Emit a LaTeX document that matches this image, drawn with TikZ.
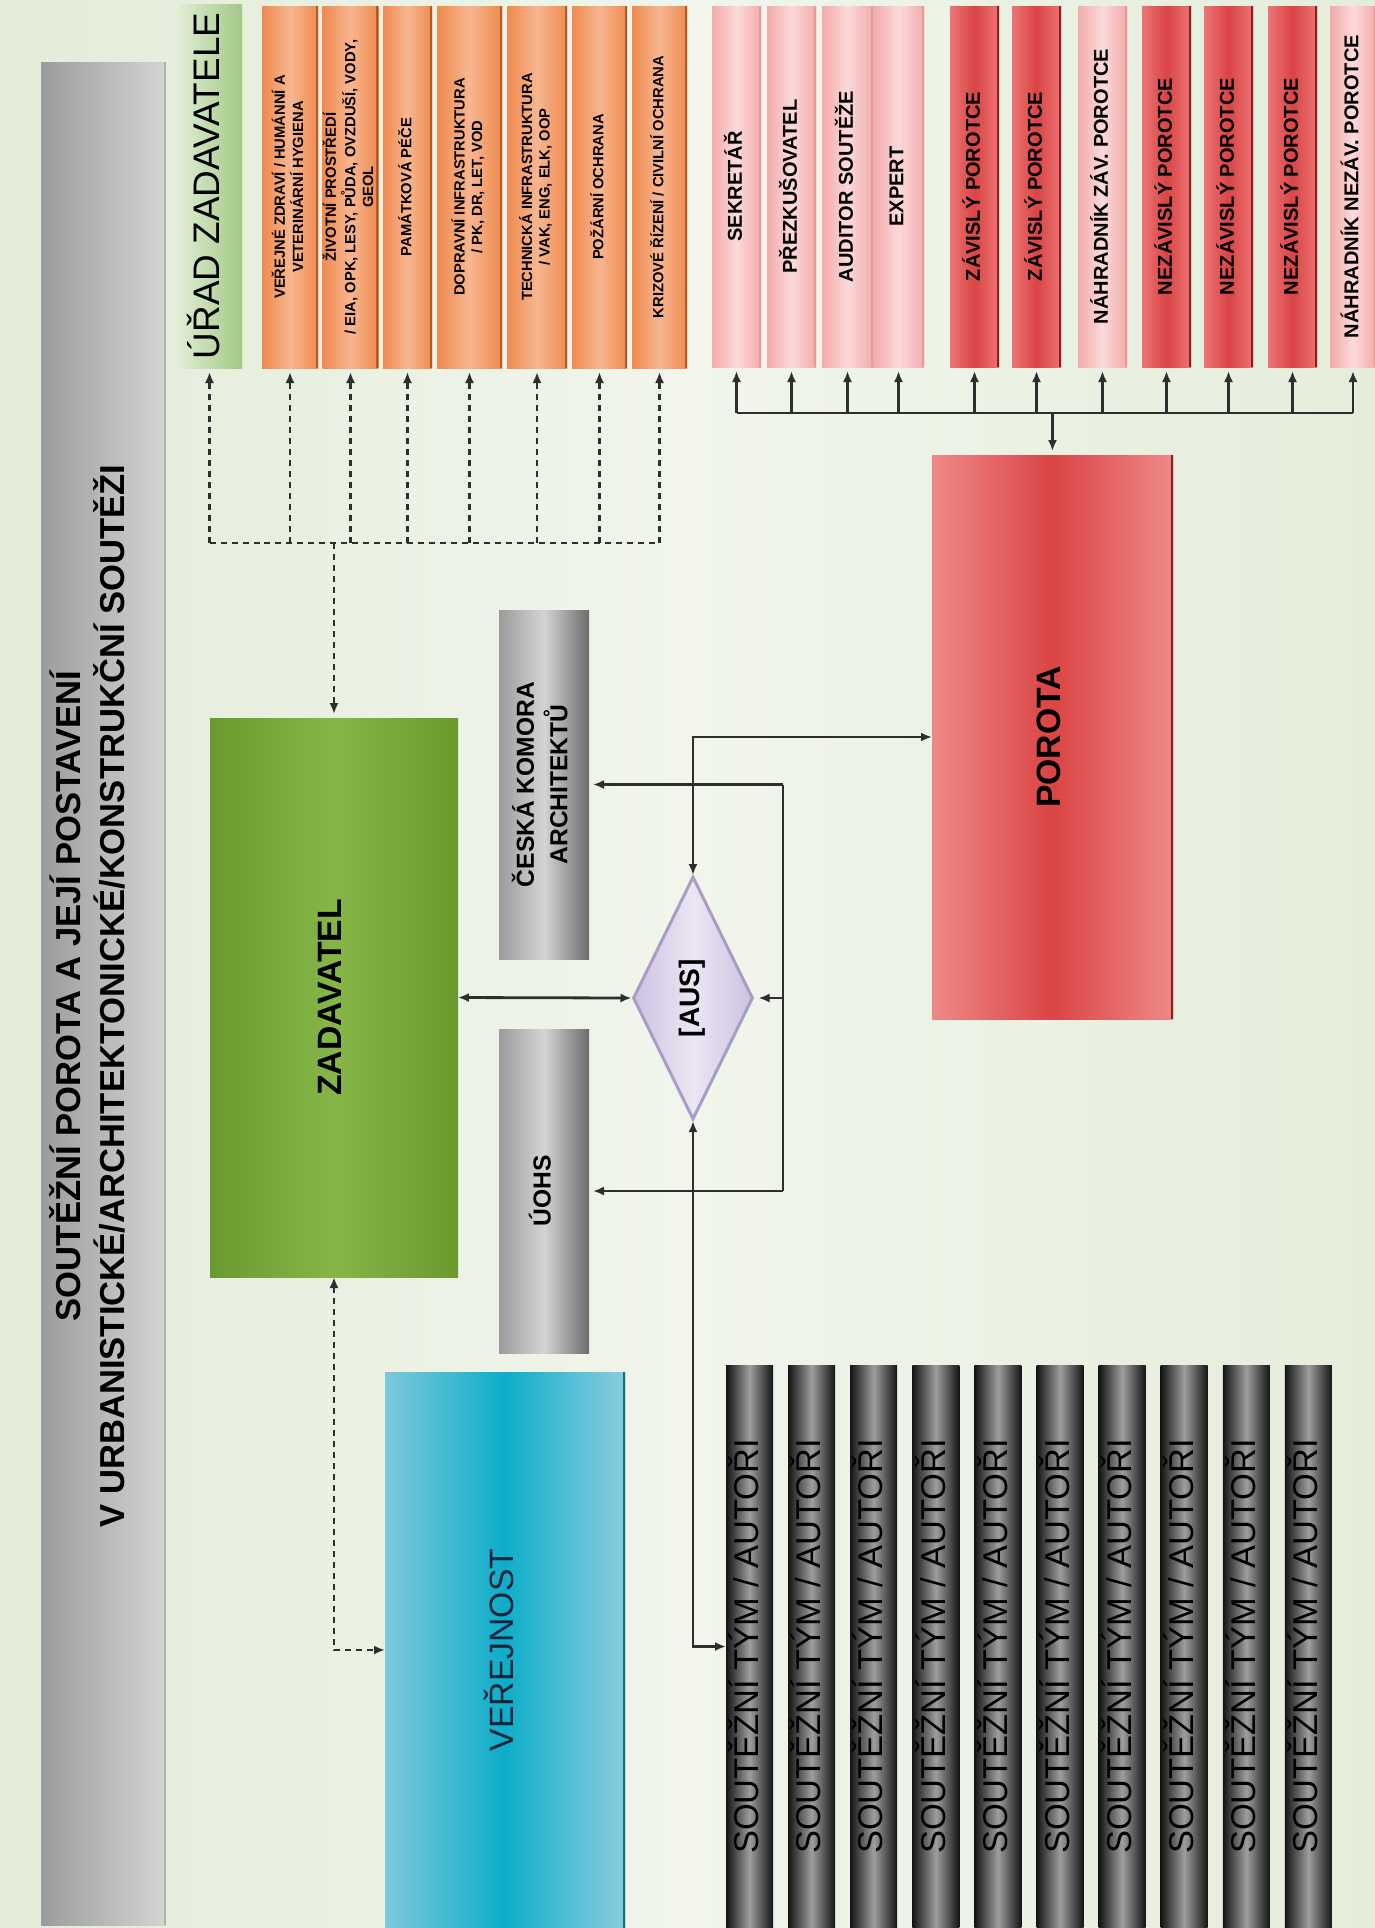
\documentclass[tikz,border=0pt]{standalone}
\usepackage{fontspec}
\setmainfont{Liberation Sans}
\usetikzlibrary{arrows.meta, shapes.geometric}

\definecolor{fondG}{HTML}{E3ECD8}
\definecolor{fondM}{HTML}{F1F5EC}
\definecolor{fondD}{HTML}{E5EDDA}
\definecolor{trait}{HTML}{2E2E2E}
\definecolor{oranzA}{HTML}{EF8A4E}
\definecolor{oranzB}{HTML}{F7B690}
\definecolor{oranzC}{HTML}{B45A26}
\definecolor{ruzA}{HTML}{F2AAAA}
\definecolor{ruzB}{HTML}{FCDADA}
\definecolor{ruzC}{HTML}{E39A9A}
\definecolor{cervA}{HTML}{EC7474}
\definecolor{cervB}{HTML}{DA4444}
\definecolor{cervC}{HTML}{8E1E1E}
\definecolor{zelA}{HTML}{6A992E}
\definecolor{zelB}{HTML}{86B548}
\definecolor{svzelA}{HTML}{E2EED6}
\definecolor{svzelB}{HTML}{A2C885}
\definecolor{modA}{HTML}{7CC9D9}
\definecolor{modB}{HTML}{0DADCA}
\definecolor{modC}{HTML}{0B6F85}
\definecolor{modT}{HTML}{14243A}
\definecolor{sedA}{HTML}{9C9C9C}
\definecolor{sedB}{HTML}{D4D4D4}
\definecolor{sedC}{HTML}{6C6C6C}
\definecolor{fialA}{HTML}{CDC2E1}
\definecolor{fialB}{HTML}{EBE6F3}
\definecolor{fialC}{HTML}{A99DC6}

\newcommand{\vlabel}[1]{\rotatebox{90}{\begin{tabular}{@{}c@{}}#1\end{tabular}}}

\tikzset{
    box/.style={rectangle, inner sep=0pt, outer sep=0pt},
    hrana/.style={path picture={\draw[#1, line width=0.4mm]
        (path picture bounding box.north east) -- (path picture bounding box.south east);}},
    dopbox/.style={box, left color=oranzA, right color=oranzA, middle color=oranzB,
        hrana=oranzC, minimum height=36.2mm, font=\fontsize{4.2}{5}\selectfont\bfseries},
    svetlybox/.style={box, left color=ruzA, right color=ruzA, middle color=ruzB,
        hrana=ruzC, minimum height=36.1mm, font=\fontsize{5.7}{6.8}\selectfont\bfseries},
    tmavybox/.style={box, left color=cervA, right color=cervA, middle color=cervB,
        hrana=cervC, minimum height=36.1mm, font=\fontsize{5.7}{6.8}\selectfont\bfseries},
    sedybox/.style={box, left color=sedA, right color=sedC, middle color=sedB,
        font=\fontsize{7}{9.4}\selectfont\bfseries},
    tymbox/.style={box, left color=black!92, right color=black!92, middle color=black!38,
        minimum width=4.7mm, minimum height=56.3mm, font=\fontsize{9.8}{11}\selectfont},
    conn/.style={draw=trait, line width=0.28mm},
    dashconn/.style={draw=trait, line width=0.25mm, dash pattern=on 0.6mm off 0.5mm},
    arrowend/.style={-{Latex[length=1.1mm,width=0.9mm]}, shorten >=0.4mm},
    arrowboth/.style={{Latex[length=1.1mm,width=0.9mm]}-{Latex[length=1.1mm,width=0.9mm]}}
}

\begin{document}
\begin{tikzpicture}[x=0.1mm, y=-0.1mm]

    % Fond
    \useasboundingbox (0,0) rectangle (1375,1928);
    \shade[left color=fondG, right color=fondD, middle color=fondM] (0,0) rectangle (1375,1928);

    % Titre
    \node[box, left color=sedA, right color=sedB, hrana=sedA!80,
        minimum width=12.5mm, minimum height=186.3mm] (pruh) at (103.5,993.5) {};
    \node[font=\fontsize{9.85}{12}\selectfont\bfseries] (titulek) at (93,996)
        {\vlabel{SOUTĚŽNÍ POROTA A JEJÍ POSTAVENÍ\\V URBANISTICKÉ/ARCHITEKTONICKÉ/KONSTRUKČNÍ SOUTĚŽI}};

    % Úřad zadavatele
    \node[box, left color=svzelA, right color=svzelB, minimum width=6.5mm, minimum height=36.4mm,
        font=\fontsize{10.5}{12}\selectfont] (urad) at (209.5,186) {\vlabel{ÚŘAD ZADAVATELE}};

    \node[dopbox, minimum width=5.6mm] (dop1) at (290,187)
        {\vlabel{VEŘEJNÉ ZDRAVÍ / HUMÁNNÍ A\\VETERINÁRNÍ HYGIENA}};
    \node[dopbox, minimum width=5.5mm] (dop2) at (350.5,187)
        {\vlabel{ŽIVOTNÍ PROSTŘEDÍ\\/ EIA, OPK, LESY, PŮDA, OVZDUŠÍ, VODY,\\GEOL}};
    \node[dopbox, minimum width=4.9mm] (dop3) at (407.5,187) {\vlabel{PAMÁTKOVÁ PÉČE}};
    \node[dopbox, minimum width=6.5mm] (dop4) at (469.5,187)
        {\vlabel{DOPRAVNÍ INFRASTRUKTURA\\/ PK, DR, LET, VOD}};
    \node[dopbox, minimum width=6mm] (dop5) at (537,187)
        {\vlabel{TECHNICKÁ INFRASTRUKTURA\\/ VAK, ENG, ELK, OOP}};
    \node[dopbox, minimum width=5.5mm] (dop6) at (599.5,187) {\vlabel{POŽÁRNÍ OCHRANA}};
    \node[dopbox, minimum width=5.5mm] (dop7) at (659.5,187) {\vlabel{KRIZOVÉ ŘÍZENÍ / CIVILNÍ OCHRANA}};

    % Porota
    \node[svetlybox, minimum width=4.9mm] (sekretar) at (736.5,186.5) {\vlabel{SEKRETÁŘ}};
    \node[svetlybox, minimum width=4.9mm] (prezk) at (791.5,186.5) {\vlabel{PŘEZKUŠOVATEL}};
    \node[svetlybox, minimum width=5.1mm] (auditor) at (847.5,186.5) {\vlabel{AUDITOR SOUTĚŽE}};
    \node[svetlybox, minimum width=5.1mm] (expert) at (898.5,186.5) {\vlabel{EXPERT}};
    \node[tmavybox, minimum width=4.9mm] (zav1) at (974.5,186.5) {\vlabel{ZÁVISLÝ POROTCE}};
    \node[tmavybox, minimum width=4.9mm] (zav2) at (1036.5,186.5) {\vlabel{ZÁVISLÝ POROTCE}};
    \node[svetlybox, minimum width=4.9mm] (nahr1) at (1102.5,186.5) {\vlabel{NÁHRADNÍK ZÁV. POROTCE}};
    \node[tmavybox, minimum width=4.9mm] (nez1) at (1166.5,186.5) {\vlabel{NEZÁVISLÝ POROTCE}};
    \node[tmavybox, minimum width=4.9mm] (nez2) at (1228.5,186.5) {\vlabel{NEZÁVISLÝ POROTCE}};
    \node[tmavybox, minimum width=4.9mm] (nez3) at (1292.5,186.5) {\vlabel{NEZÁVISLÝ POROTCE}};
    \node[svetlybox, minimum width=4.6mm] (nahr2) at (1353,186.5) {\vlabel{NÁHRADNÍK NEZÁV. POROTCE}};

    \node[box, left color=cervA!85, right color=cervA!85, middle color=cervB, hrana=cervC,
        minimum width=24.1mm, minimum height=56.4mm, font=\fontsize{9.6}{11}\selectfont\bfseries]
        (porota) at (1052.5,737) {\vlabel{POROTA}};

    % Zadavatel
    \node[box, left color=zelA, right color=zelA, middle color=zelB,
        minimum width=24.8mm, minimum height=55.9mm, font=\fontsize{9.6}{11}\selectfont\bfseries]
        (zadavatel) at (334,997.5) {\vlabel{ZADAVATEL}};

    \node[sedybox, minimum width=9mm, minimum height=34.9mm] (cka) at (544,784.5)
        {\vlabel{ČESKÁ KOMORA\\ARCHITEKTŮ}};
    \node[sedybox, minimum width=9mm, minimum height=32.4mm] (uohs) at (544,1191) {\vlabel{ÚOHS}};

    \node[diamond, aspect=0.5, inner sep=0pt, minimum width=12mm, minimum height=24.3mm,
        draw=fialC, line width=0.3mm, left color=fialA, right color=fialA, middle color=fialB,
        font=\fontsize{8}{9}\selectfont\bfseries] (aus) at (693,998) {\vlabel{[AUS]}};

    % Veřejnost
    \node[box, left color=modA, right color=modA!90, middle color=modB, hrana=modC,
        minimum width=24mm, minimum height=55.6mm, text=modT,
        font=\fontsize{9.6}{11}\selectfont] (verejnost) at (505,1650) {\vlabel{VEŘEJNOST}};

    % Soutěžní týmy
    \foreach \i in {0,...,9}
        \node[tymbox] (tym\i) at (749.5+62.1*\i,1646.5) {\vlabel{SOUTĚŽNÍ TÝM / AUTOŘI}};

    % Liaisons en pointillés
    \coordinate (sber) at (332,543);
    \draw[dashconn] (urad |- sber) -- (dop7 |- sber);
    \foreach \b in {urad, dop1, dop2, dop3, dop4, dop5, dop6, dop7}
        \draw[dashconn, arrowend] (\b |- sber) -- (\b.south);
    \draw[dashconn, arrowend] (zadavatel.north |- sber) -- (zadavatel.north);
    \draw[dashconn, arrowboth] (zadavatel.south) |- (verejnost.west);

    % Liaisons pleines
    \draw[conn, arrowboth] (zadavatel.east) -- (aus.west);
    \draw[conn, arrowboth] (aus.north) |- (porota.west);
    \draw[conn, arrowboth] (aus.south) |- (tym0.west);

    \coordinate (ausbus) at (783,998);
    \draw[conn] (ausbus |- cka.east) -- (ausbus |- uohs.east);
    \draw[conn, arrowend] (ausbus |- cka.east) -- (cka.east);
    \draw[conn, arrowend] (ausbus) -- (aus.east);
    \draw[conn, arrowend] (ausbus |- uohs.east) -- (uohs.east);

    \coordinate (porbus) at (1052.5,413);
    \draw[conn, arrowend] (porbus) -- (porota.north);
    \draw[conn] (sekretar |- porbus) -- (nahr2 |- porbus);
    \foreach \p in {sekretar, prezk, auditor, expert, zav1, zav2, nahr1, nez1, nez2, nez3, nahr2}
        \draw[conn, arrowend] (\p |- porbus) -- (\p.south);

\end{tikzpicture}
\end{document}
